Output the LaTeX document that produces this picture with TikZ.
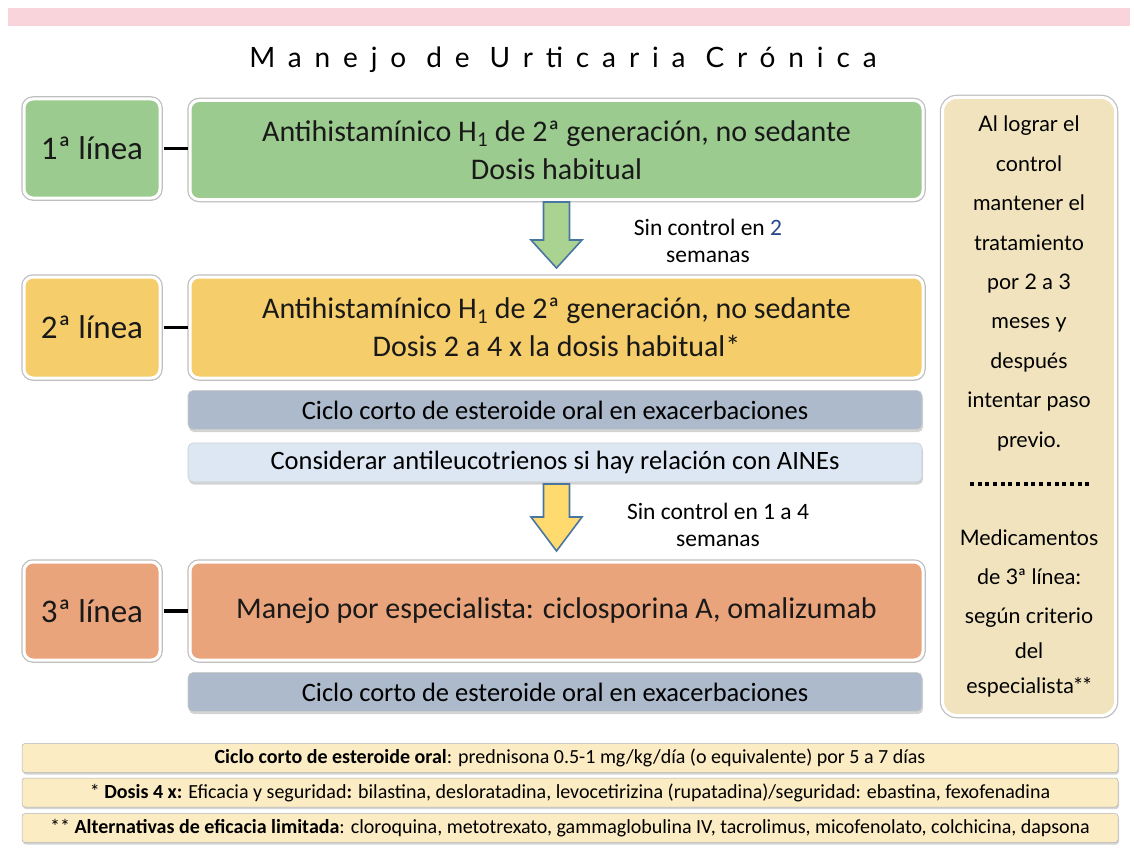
\documentclass[tikz,border=0pt]{standalone}
\usepackage{fontspec}
\setmainfont{Carlito}
\newfontfamily\lato{Lato}
\newfontfamily\titulo[LetterSpace=46]{Lato}
\usetikzlibrary{shadows}

\definecolor{rosa}{RGB}{249,212,218}
\definecolor{verde}{RGB}{155,203,142}
\definecolor{amarillo}{RGB}{245,205,106}
\definecolor{naranja}{RGB}{234,164,124}
\definecolor{grisazul}{RGB}{173,186,203}
\definecolor{celeste}{RGB}{220,231,243}
\definecolor{beige}{RGB}{240,227,190}
\definecolor{crema}{RGB}{252,236,196}
\definecolor{verdeflecha}{RGB}{170,211,146}
\definecolor{amarilloflecha}{RGB}{255,218,110}
\definecolor{bordeflecha}{RGB}{72,118,160}
\definecolor{azultexto}{RGB}{40,70,140}

\tikzset{
  caja/.style = {rounded corners = 9pt, draw = white, line width = 3pt,
    drop shadow = {shadow xshift = 1.5pt, shadow yshift = -2.5pt, opacity = 0.35},
    preaction = {draw = black!25, line width = 5.5pt},
    align = center, inner sep = 0pt, text = black!90},
  franja/.style = {rounded corners = 5pt, draw = black!20, line width = 0.6pt,
    drop shadow = {shadow xshift = 1pt, shadow yshift = -2.5pt, opacity = 0.35},
    minimum width = 734, minimum height = 39, inner sep = 0pt,
    font = \fontsize{26.5}{28}\selectfont},
  nota/.style = {rounded corners = 3pt, fill = crema, draw = black!30, line width = 0.5pt,
    drop shadow = {shadow xshift = 1pt, shadow yshift = -2pt, opacity = 0.35},
    minimum width = 1096, minimum height = 29, inner sep = 0pt,
    font = \fontsize{20}{22}\selectfont},
  guion/.style = {line width = 3.5pt, shorten < = 2pt, shorten > = 1pt},
  flecha/.style = {draw = bordeflecha, line width = 1.6pt, line join = miter}
}

\begin{document}
\begin{tikzpicture}[x = 1pt, y = -1pt]
            \useasboundingbox (0, 0) rectangle (1134, 848);

            \fill[rosa] (8, 8) rectangle (1130, 26);
            \node (tit) at (563, 60) {\titulo\fontsize{28}{30}\selectfont Manejo de Urticaria Crónica};

            \node[caja, fill = verde, minimum width = 136, minimum height = 99, font = \fontsize{33}{36}\selectfont] (l1) at (92, 148.5) {1ª línea};
            \node[caja, fill = verde, minimum width = 733, minimum height = 99, font = \fontsize{30}{38}\selectfont] (v1) at (556.5, 150)
                {Antihistamínico H\textsubscript{1} de 2ª generación, no sedante\\Dosis habitual};
            \draw[guion] (l1.east) -- (l1.east -| v1.west);

            \draw[flecha, fill = verdeflecha] (543.5, 202) -- (569.5, 202) -- (569.5, 240) -- (582, 240) -- (556.5, 268) -- (531, 240) -- (543.5, 240) -- cycle;
            \node[align = center, font = \fontsize{23.5}{27}\selectfont] (s1) at (708, 241) {Sin control en {\color{azultexto}2}\\semanas};

            \node[caja, fill = amarillo, minimum width = 136, minimum height = 101, font = \fontsize{33}{36}\selectfont] (l2) at (92, 327.5) {2ª línea};
            \node[caja, fill = amarillo, minimum width = 733, minimum height = 101, font = \fontsize{30}{38}\selectfont] (v2) at (556.5, 327.5)
                {Antihistamínico H\textsubscript{1} de 2ª generación, no sedante\\Dosis 2 a 4 x la dosis habitual*};
            \draw[guion] (l2.east) -- (l2.east -| v2.west);

            \node[franja, fill = grisazul] (e1) at (555, 410) {Ciclo corto de esteroide oral en exacerbaciones};
            \node[franja, fill = celeste] (ai) at (555, 462.5) {Considerar antileucotrienos si hay relación con AINEs};

            \draw[flecha, fill = amarilloflecha] (543.5, 484) -- (569.5, 484) -- (569.5, 517) -- (582, 517) -- (556.5, 551) -- (531, 517) -- (543.5, 517) -- cycle;
            \node[align = center, font = \fontsize{23.5}{27}\selectfont] (s2) at (718, 524.5) {Sin control en 1 a 4\\semanas};

            \node[caja, fill = naranja, minimum width = 136, minimum height = 98, font = \fontsize{33}{36}\selectfont] (l3) at (92, 611) {3ª línea};
            \node[caja, fill = naranja, minimum width = 733, minimum height = 98, font = \fontsize{30}{38}\selectfont] (v3) at (556.5, 611)
                {Manejo por especialista: ciclosporina A, omalizumab};
            \draw[guion] (l3.east) -- (l3.east -| v3.west);

            \node[franja, fill = grisazul] (e2) at (555, 692) {Ciclo corto de esteroide oral en exacerbaciones};

            \node[caja, fill = beige, rounded corners = 14pt, minimum width = 173, minimum height = 618] (der) at (1029, 406.5) {};
            \node[align = center, font = \lato\fontsize{21.4}{39.4}\selectfont] (t1) at (1029, 283.5)
                {Al lograr el\\control\\mantener el\\tratamiento\\por 2 a 3\\meses y\\después\\intentar paso\\previo.};
            \node (pts) at (1030, 484) {\hbox to 124pt{\leaders\hbox to 7.7pt{\hss\rule{4pt}{4pt}\hss}\hfill}};
            \node[align = center, font = \lato\fontsize{21.4}{39}\selectfont] (t2) at (1029, 613)
                {Medicamentos\\de 3ª línea:\\según criterio\\[-4pt]del\\[-4pt]especialista**};

            \node[nota] (n1) at (570, 758) {\textbf{Ciclo corto de esteroide oral}: prednisona 0.5-1 mg/kg/día (o equivalente) por 5 a 7 días};
            \node[nota] (n2) at (570, 792.5) {* \textbf{Dosis 4 x:} Eficacia y seguridad\textbf{:} bilastina, desloratadina, levocetirizina (rupatadina)/seguridad: ebastina, fexofenadina};
            \node[nota] (n3) at (570, 828) {** \textbf{Alternativas de eficacia limitada}: cloroquina, metotrexato, gammaglobulina IV, tacrolimus, micofenolato, colchicina, dapsona};

        \end{tikzpicture}
\end{document}
